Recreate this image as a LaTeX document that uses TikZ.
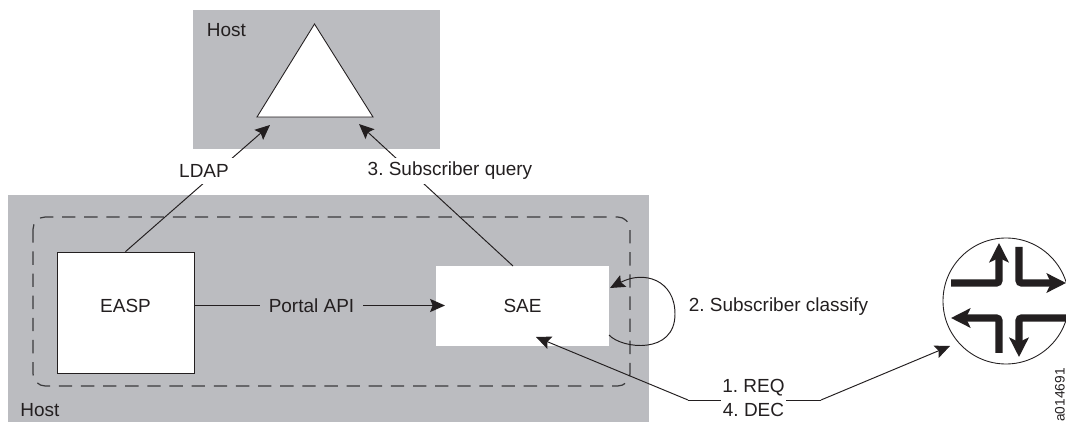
\documentclass[tikz,border=0pt]{standalone}
\usepackage{fontspec}
\setmainfont{Liberation Sans}
\usepackage{xcolor}
\usepackage{tikz}
\usetikzlibrary{arrows.meta}
\definecolor{hostgray}{HTML}{BBBCC0}
\definecolor{ink}{HTML}{231F20}
\definecolor{dashink}{HTML}{3A3A3C}
\tikzset{
  hostbox/.style={fill=hostgray, draw=none},
  dashbox/.style={draw=dashink, line width=0.7pt, dash pattern=on 7.6pt off 5pt, rounded corners=7pt},
  lab/.style={text=ink, font=\fontsize{10.8}{12}\selectfont, inner sep=0pt},
  appbox/.style={lab, fill=white},
  conn/.style={draw=ink, line width=0.55pt},
  connarrow/.style={conn, -{Stealth[length=8.5pt,width=7.5pt,inset=1.5pt]}},
  routerarrow/.style={draw=ink, line width=4.1pt, rounded corners=1.5pt, -{Stealth[length=11pt,width=11pt,inset=2.5pt]}}
}
\frenchspacing
\begin{document}
\begin{tikzpicture}[x=0.02cm,y=-0.02cm]
  \useasboundingbox (0,0) rectangle (1066,422);

  % hosts
  \fill[hostbox] (193,10) rectangle (440,149);
  \fill[hostbox] (8,195) rectangle (649,422);
  \draw[dashbox] (33,217) rectangle (630,386);

  % directory triangle
  \draw[fill=white, draw=ink, line width=0.5pt] (314.5,24) -- (373,117) -- (257,117) -- cycle;

  \node[appbox, draw=ink, line width=0.45pt, minimum width=2.74cm, minimum height=2.42cm] (easp) at (125.5,312.5) {\raisebox{7pt}{EASP}};
  \node[appbox, minimum width=3.46cm, minimum height=1.6cm] (sae) at (522.5,306) {SAE};

  \coordinate (easpE) at (194,305.5);
  \coordinate (saeN) at (513,266);
  \coordinate (saeIn) at (445,305.5);
  \coordinate (tipL) at (270,125);
  \coordinate (tipR) at (359,124);
  \coordinate (tipReq) at (536,337);
  \coordinate (bendL) at (688,400);
  \coordinate (bendR) at (821,400);
  \coordinate (tipRouter) at (950,346);
  \coordinate (loopOut) at (609,335);
  \coordinate (loopIn) at (610,288);

  % connectors, the labels sit on top of them
  \draw[connarrow] (easp.north) -- (tipL);
  \draw[connarrow] (saeN) -- (tipR);
  \draw[connarrow] (easpE) -- (saeIn);
  \draw[connarrow] (loopOut) .. controls (622,349) and (675,355) .. (675,314) .. controls (675,280) and (644,270) .. (loopIn);
  \draw[connarrow] (bendL) -- (tipReq);
  \draw[conn] (bendL) -- (bendR);
  \draw[connarrow] (bendR) -- (tipRouter);

  \node[lab, fill=white, inner xsep=3pt, minimum height=14.8pt] (ldap) at (204,171) {LDAP};
  \node[lab, fill=white, minimum height=14.8pt] (query) at (450,171) {3. Subscriber query};
  \node[lab, fill=hostgray, inner xsep=5pt, minimum height=14pt] (portal) at (311.5,306) {Portal API};
  \node[lab] (classify) at (778.5,307) {2. Subscriber classify};
  \node[lab, fill=white, inner xsep=1pt, align=center, font=\fontsize{10.8}{13.6}\selectfont] (reqdec) at (753.5,398) {1. REQ\\4. DEC};

  \node[lab] (hostT) at (226.5,30) {Host};
  \node[lab] (hostB) at (40,410) {Host};

  % router
  \begin{scope}
    \clip (0,0) rectangle (1066,422);
    \draw[fill=white, draw=ink, line width=0.5pt] (1006,301) circle (63);
    \draw[routerarrow] (951,283) -- (999,283) -- (999,243);
    \draw[routerarrow] (1019,247) -- (1019,283) -- (1066,283);
    \draw[routerarrow] (999,353) -- (999,318) -- (951,318);
    \draw[routerarrow] (1066,318) -- (1019,318) -- (1019,357);
  \end{scope}

  \node[lab, rotate=90, font=\fontsize{7.8}{9}\selectfont] (figid) at (1060,395) {a014691};
\end{tikzpicture}
\end{document}
